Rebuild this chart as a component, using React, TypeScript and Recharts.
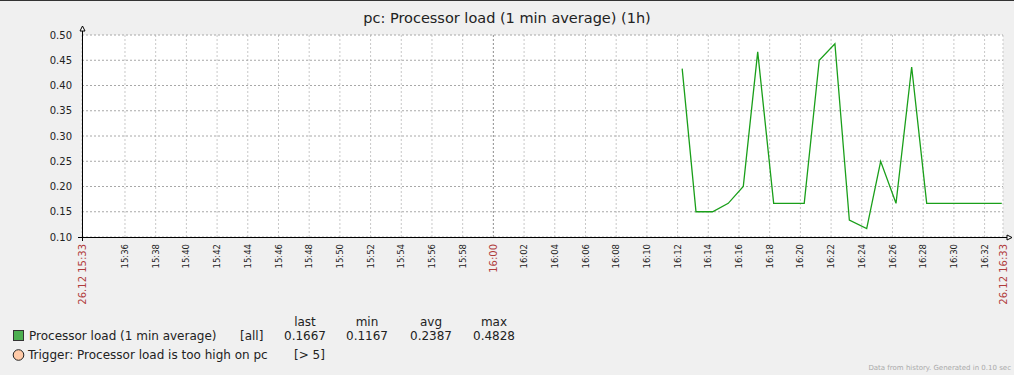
import { LineChart, Line, XAxis, YAxis, CartesianGrid, ReferenceLine } from 'recharts'

// minutes after 15:33:00 on 26.12
const sampleMinutes = [39.3, 40.2, 41.28, 42.3, 43.28, 44.22, 45.26, 47.25, 48.23, 49.25, 50.19, 51.32, 52.23, 53.23, 54.25, 55.23, 60.12]
const loadValues = [0.4333, 0.15, 0.15, 0.1667, 0.2, 0.4667, 0.1667, 0.1667, 0.45, 0.4828, 0.1333, 0.1167, 0.25, 0.1667, 0.4367, 0.1667, 0.1667]

const yTicks = [0.1, 0.15, 0.2, 0.25, 0.3, 0.35, 0.4, 0.45, 0.5]
const xTicks = [0.2, 3, 5, 7, 9, 11, 13, 15, 17, 19, 21, 23, 25, 27, 29, 31, 33, 35, 37, 39, 41, 43, 45, 47, 49, 51, 53, 55, 57, 59, 60.2]
const edgeLabels = ['26.12 15:33', '26.12 16:33']
const legendHeaders = ['last', 'min', 'avg', 'max']
const legendStats = ['0.1667', '0.1167', '0.2387', '0.4828']

const data = sampleMinutes.map((m, i) => ({ m, load: loadValues[i] }))

const RED = '#b03c3c'
const FONT = '"DejaVu Sans", sans-serif'

function clock(m: number) {
  const total = 15 * 60 + 33 + Math.round(m)
  const h = Math.floor(total / 60)
  const mm = total % 60
  return `${h}:${mm < 10 ? '0' : ''}${mm}`
}

function TimeTick(props: any) {
  const { x, payload } = props
  const v = payload.value as number
  let label = clock(v)
  let color = '#222'
  let size = 8.5
  if (v === xTicks[0]) { label = edgeLabels[0]; color = RED; size = 10 }
  else if (v === xTicks[xTicks.length - 1]) { label = edgeLabels[1]; color = RED; size = 10 }
  else if (clock(v).endsWith(':00')) { color = RED; size = 10 }
  return (
    <text
      transform={`translate(${x + size * 0.36},244) rotate(-90)`}
      textAnchor="end"
      fontSize={size}
      fontFamily={FONT}
      fill={color}
    >
      {label}
    </text>
  )
}

const statX = [305, 367, 431, 494]

export default function App() {
  return (
    <div style={{ position: 'absolute', left: 0, top: 0, width: 1014, height: 375, background: '#f0f0f0', borderTop: '1px solid #333', boxSizing: 'border-box' }}>
      <div style={{ position: 'absolute', left: 0, top: -1 }}>
        <LineChart width={1014} height={375} data={data} margin={{ top: 35, right: 11, left: 0, bottom: 0 }}>
          <CartesianGrid horizontal={false} stroke="#c8c8c8" strokeDasharray="2 2" fill="#fff" />
          <CartesianGrid vertical={false} stroke="#a8a8a8" strokeDasharray="2 2" />
          <ReferenceLine x={27} stroke="#999" strokeDasharray="2 2" />
          <XAxis
            dataKey="m"
            type="number"
            domain={[0.2, 60.2]}
            ticks={xTicks}
            interval={0}
            height={138}
            axisLine={false}
            tickLine={false}
            tick={<TimeTick />}
            allowDataOverflow
          />
          <YAxis
            type="number"
            domain={[0.1, 0.5]}
            ticks={yTicks}
            width={82}
            axisLine={false}
            tickLine={false}
            tickSize={6}
            tickMargin={4}
            tickFormatter={(v: number) => v.toFixed(2)}
            tick={{ fontSize: 10, fill: '#222', fontFamily: FONT }}
            allowDataOverflow
          />
          <Line
            dataKey="load"
            type="linear"
            stroke="#1a9f1a"
            strokeWidth={1.3}
            dot={false}
            isAnimationActive={false}
          />
        </LineChart>
      </div>
      <svg width={1014} height={375} style={{ position: 'absolute', left: 0, top: -1, pointerEvents: 'none' }} fontFamily={FONT}>
        <text x={507} y={18} textAnchor="middle" dominantBaseline="central" fontSize={14.5} fill="#222">
          pc: Processor load (1 min average) (1h)
        </text>
        {/* axes */}
        <line x1={82.5} y1={31} x2={82.5} y2={241} stroke="#000" />
        <path d="M80,31 L85,31 L82.5,26 Z" fill="#fff" stroke="#000" />
        <line x1={78} y1={237.5} x2={1007} y2={237.5} stroke="#000" />
        <path d="M1007,235 L1007,240 L1012,237.5 Z" fill="#fff" stroke="#000" />
        {/* legend */}
        {legendHeaders.map((h, i) => (
          <text key={h} x={statX[i]} y={322} textAnchor="middle" dominantBaseline="central" fontSize={12} fill="#222">{h}</text>
        ))}
        <rect x={13.5} y={330.5} width={10} height={10} fill="#4caf50" stroke="#333" />
        <text x={29} y={336} dominantBaseline="central" fontSize={12} fill="#222">Processor load (1 min average)</text>
        <text x={240} y={336} dominantBaseline="central" fontSize={12} fill="#222">[all]</text>
        {legendStats.map((s, i) => (
          <text key={i} x={statX[i]} y={336} textAnchor="middle" dominantBaseline="central" fontSize={12} fill="#222">{s}</text>
        ))}
        <circle cx={18.5} cy={355} r={5.3} fill="#ffcaa8" stroke="#222" />
        <text x={28} y={355} dominantBaseline="central" fontSize={12} fill="#222">Trigger: Processor load is too high on pc</text>
        <text x={294} y={355} dominantBaseline="central" fontSize={12} fill="#222">[&gt; 5]</text>
        <text x={1011} y={368} textAnchor="end" dominantBaseline="central" fontSize={7} fill="#aaa">Data from history. Generated in 0.10 sec</text>
      </svg>
    </div>
  )
}
